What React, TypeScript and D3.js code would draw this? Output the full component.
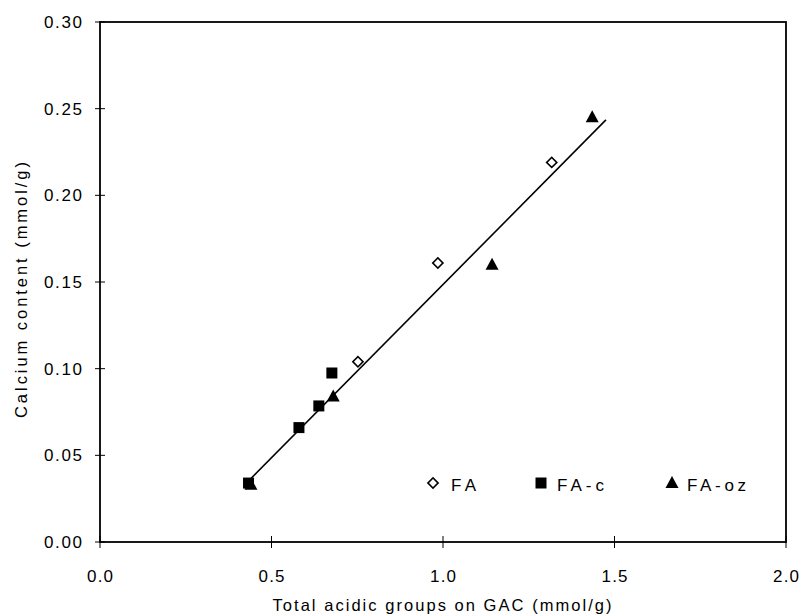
import React from "react";
import * as d3 from "d3";

const faX = [0.752, 0.985, 1.317];
const faY = [0.104, 0.161, 0.219];
const facX = [0.433, 0.58, 0.638, 0.676];
const facY = [0.034, 0.066, 0.0785, 0.0975];
const fazX = [0.44, 0.68, 1.143, 1.435];
const fazY = [0.033, 0.084, 0.16, 0.245];
const fitX = [0.43, 1.475];
const fitY = [0.0346, 0.2435];
const xTicks = [0, 0.5, 1.0, 1.5, 2.0];
const yTicks = [0, 0.05, 0.1, 0.15, 0.2, 0.25, 0.3];
const legendNames = ["FA", "FA-c", "FA-oz"];
const xTitle = "Total acidic groups on GAC (mmol/g)";
const yTitle = "Calcium content (mmol/g)";

const W = 801, H = 616;
const L = 100, R = 786, T = 22, B = 542;
const FONT = "'Liberation Sans', Arial, sans-serif";

export default function App() {
  const x = d3.scaleLinear().domain([0, 2]).range([L, R]);
  const y = d3.scaleLinear().domain([0, 0.3]).range([B, T]);
  const line = d3.line<number>().x((d, i) => x(fitX[i])).y((d, i) => y(fitY[i]));
  const diamond = (cx: number, cy: number, k: string) => (
    <rect key={k} x={cx - 3.6} y={cy - 3.6} width={7.2} height={7.2}
      transform={`rotate(45 ${cx} ${cy})`} fill="#fff" stroke="#000" strokeWidth={1.6} />
  );
  const square = (cx: number, cy: number, k: string) => (
    <rect key={k} x={cx - 5.5} y={cy - 5.5} width={11} height={11} fill="#000" />
  );
  const triangle = (cx: number, cy: number, k: string) => (
    <path key={k} d={`M${cx},${cy - 7}L${cx + 6.5},${cy + 5}L${cx - 6.5},${cy + 5}Z`} fill="#000" />
  );
  const legendY = 483;
  const legendItems = [
    { mx: 433, tx: 451, w: 25, draw: diamond },
    { mx: 541, tx: 557, w: 47, draw: square },
    { mx: 672, tx: 687, w: 59, draw: triangle },
  ];
  return (
    <div style={{ position: "absolute", left: 0, top: 0 }}>
      <svg width={W} height={H} style={{ display: "block", fontFamily: FONT }}>
        <rect x={0} y={0} width={W} height={H} fill="#fff" />
        <rect x={L} y={T} width={R - L} height={B - T} fill="none" stroke="#000" strokeWidth={1.8} />
        {yTicks.map((t) => (
          <g key={"y" + t}>
            <line x1={L - 5} x2={L + 5} y1={y(t)} y2={y(t)} stroke="#000" strokeWidth={1} />
            <text x={82} y={y(t) + 6} textAnchor="end" fontSize={17} fill="#000"
              textLength={38} lengthAdjust="spacing">
              {t.toFixed(2)}
            </text>
          </g>
        ))}
        {xTicks.map((t) => (
          <g key={"x" + t}>
            <line x1={x(t)} x2={x(t)} y1={B - 6} y2={B + 6} stroke="#000" strokeWidth={1} />
            <text x={x(t)} y={582} textAnchor="middle" fontSize={17} fill="#000"
              textLength={26} lengthAdjust="spacing">
              {t.toFixed(1)}
            </text>
          </g>
        ))}
        <text x={442} y={611} textAnchor="middle" fontSize={16.5} fill="#000"
          textLength={339} lengthAdjust="spacing">{xTitle}</text>
        <text transform={`translate(27,290) rotate(-90)`} textAnchor="middle" fontSize={16.5} fill="#000"
          textLength={256} lengthAdjust="spacing">{yTitle}</text>
        <path d={line(fitX) || ""} fill="none" stroke="#000" strokeWidth={1.6} />
        {faX.map((v, i) => diamond(x(v), y(faY[i]), "fa" + i))}
        {facX.map((v, i) => square(x(v), y(facY[i]), "fc" + i))}
        {fazX.map((v, i) => triangle(x(v), y(fazY[i]), "fz" + i))}
        {legendItems.map((it, i) => (
          <g key={"lg" + i}>
            {it.draw(it.mx, legendY, "lm" + i)}
            <text x={it.tx} y={legendY + 8} fontSize={17} fill="#000"
              textLength={it.w} lengthAdjust="spacing">{legendNames[i]}</text>
          </g>
        ))}
      </svg>
    </div>
  );
}
